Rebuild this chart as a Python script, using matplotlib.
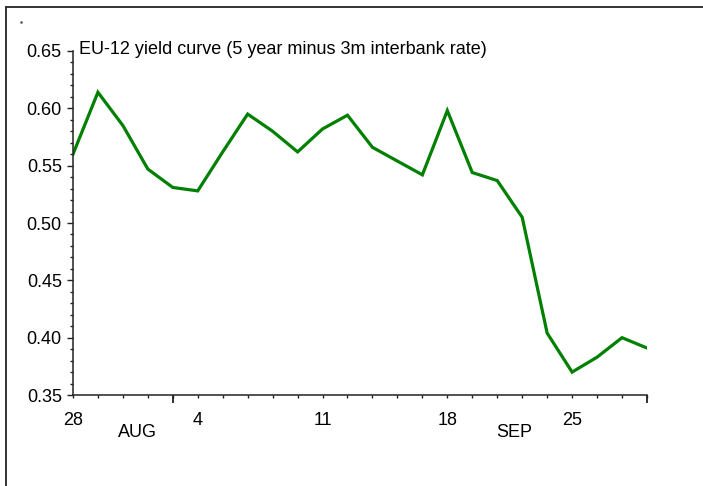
import numpy as np
import matplotlib
matplotlib.use("Agg")
import matplotlib.pyplot as plt
from matplotlib.lines import Line2D

plt.rcParams['font.family'] = ['Liberation Sans Narrow', 'Liberation Sans', 'DejaVu Sans']

# daily (business day) values of the EU-12 yield curve spread
valores = [0.560, 0.614, 0.585, 0.547, 0.531, 0.528, 0.562, 0.595, 0.580, 0.562,
           0.582, 0.594, 0.566, 0.554, 0.542, 0.598, 0.544, 0.537, 0.505, 0.404,
           0.370, 0.383, 0.400, 0.391]
dias_pos = [0, 5, 10, 15, 20]
dias_etiquetas = ['28', '4', '11', '18', '25']
cambio_mes = [4, 23]
meses = ['AUG', 'SEP']
meses_pos = [2.6, 17.7]
titulo = 'EU-12 yield curve (5 year minus 3m interbank rate)'

x = np.arange(len(valores))
fs = 13

fig = plt.figure(figsize=(7.03, 4.86), dpi=100)
ax = fig.add_axes([0.1038, 0.1872, 0.8165, 0.7079])

ax.plot(x, valores, color='#008000', linewidth=2.3, solid_joinstyle='miter')

ax.set_xlim(0, len(valores) - 1)
ax.set_ylim(0.35, 0.65)

ax.spines['top'].set_visible(False)
ax.spines['right'].set_visible(False)
for s in ['left', 'bottom']:
    ax.spines[s].set_linewidth(1.1)
    ax.spines[s].set_color('#222222')

ax.set_yticks(np.arange(0.35, 0.651, 0.05))
ax.set_yticklabels([f'{v:.2f}' for v in np.arange(0.35, 0.651, 0.05)])
ax.set_yticks(np.arange(0.35, 0.651, 0.01), minor=True)
ax.tick_params(axis='y', which='major', length=4, width=1, pad=4, labelsize=fs, color='#222222')
ax.tick_params(axis='y', which='minor', length=2.5, width=1, color='#222222')

ax.set_xticks(dias_pos)
ax.set_xticklabels(dias_etiquetas)
ax.set_xticks(x, minor=True)
ax.tick_params(axis='x', which='major', length=2.5, width=1, pad=10, labelsize=fs, color='#222222')
ax.tick_params(axis='x', which='minor', length=2.5, width=1, color='#222222')

# longer ticks at the month boundaries
sec = ax.secondary_xaxis('bottom')
sec.set_xticks(cambio_mes)
sec.set_xticklabels(['', ''])
sec.tick_params(length=6, width=1.3, color='#222222')
sec.spines['bottom'].set_visible(False)

for m, p in zip(meses, meses_pos):
    ax.text(p, -0.11, m, transform=ax.get_xaxis_transform(), ha='center', va='center',
            fontsize=fs)

ax.text(0.0105, 0.991, titulo, transform=ax.transAxes, ha='left', va='baseline',
        fontsize=fs)

# outer frame (top and left only) and stray dot
fig.add_artist(Line2D([6 / 703, 1], [1 - 7.5 / 486, 1 - 7.5 / 486], transform=fig.transFigure,
                      color='#333333', linewidth=1.4))
fig.add_artist(Line2D([6 / 703, 6 / 703], [0, 1 - 7.5 / 486], transform=fig.transFigure,
                      color='#333333', linewidth=1.4))
fig.add_artist(Line2D([21 / 703], [1 - 22 / 486], transform=fig.transFigure,
                      marker='s', markersize=0.8, color='#555555', linestyle='none'))

fig.savefig('out.png', dpi=100)
